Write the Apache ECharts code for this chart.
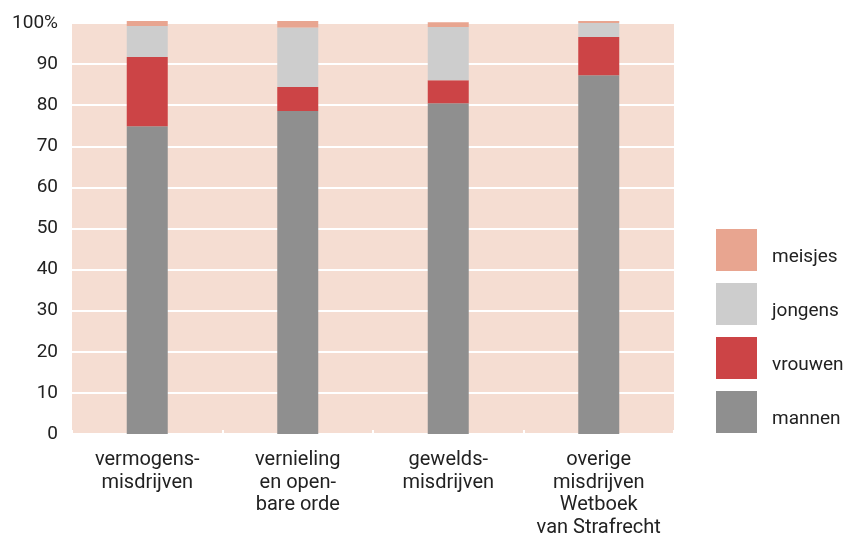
<!DOCTYPE html>
<html>
<head>
<meta charset="utf-8">
<script src="https://cdn.jsdelivr.net/npm/echarts@6/dist/echarts.min.js"></script>
<style>html,body{margin:0;padding:0;background:#fff;}#c{width:849px;height:540px;}</style>
</head>
<body>
<div id="c"></div>
<script>
const categories = ['vermogens-\nmisdrijven', 'vernieling\nen open-\nbare orde', 'gewelds-\nmisdrijven', 'overige\nmisdrijven\nWetboek\nvan Strafrecht'];
const mannen = [74.9, 78.6, 80.5, 87.3];
const vrouwen = [16.8, 5.8, 5.6, 9.3];
const jongens = [7.6, 14.5, 12.9, 3.4];
const meisjes = [1.2, 1.6, 1.2, 0.5];
const yTicks = [0, 10, 20, 30, 40, 50, 60, 70, 80, 90, 100];

const font = 'Roboto';
const chart = echarts.init(document.getElementById('c'));
function bar(name, data, color) {
  return { name, type: 'bar', stack: 'a', data, barWidth: 41, clip: false,
    itemStyle: { color }, emphasis: { disabled: true } };
}
chart.setOption({
  animation: false,
  textStyle: { fontFamily: font },
  grid: { left: 72, right: 175, top: 23, bottom: 106, show: true, backgroundColor: '#f5ddd2', borderWidth: 0 },
  legend: {
    orient: 'vertical', left: 716, top: 229, padding: 0, itemWidth: 41, itemHeight: 42, itemGap: 12,
    icon: 'rect', selectedMode: false,
    data: ['meisjes', 'jongens', 'vrouwen', 'mannen'],
    formatter: n => '{t|' + n + '}',
    textStyle: { fontSize: 19, color: '#222', fontFamily: font,
      rich: { t: { fontSize: 19, color: '#222', fontFamily: font, padding: [14, 0, 0, 10] } } }
  },
  xAxis: {
    type: 'category', data: categories,
    axisLine: { show: false },
    axisTick: { show: true, inside: true, length: 4, lineStyle: { color: '#fff', width: 2 } },
    axisLabel: { color: '#222', fontSize: 20, lineHeight: 22.5, margin: 15, fontFamily: font, interval: 0 }
  },
  yAxis: {
    type: 'value', min: 0, max: 100, interval: 10,
    axisLine: { show: false }, axisTick: { show: false },
    splitLine: { show: true, lineStyle: { color: '#fff', width: 2 } },
    axisLabel: { color: '#222', fontSize: 19, margin: 14, fontFamily: font,
      formatter: v => yTicks.includes(v) ? (v === 100 ? '100%' : String(v)) : '' }
  },
  series: [
    bar('mannen', mannen, '#8f8f8f'),
    bar('vrouwen', vrouwen, '#cc4446'),
    bar('jongens', jongens, '#cdcdcd'),
    bar('meisjes', meisjes, '#e8a590')
  ]
});
</script>
</body>
</html>
